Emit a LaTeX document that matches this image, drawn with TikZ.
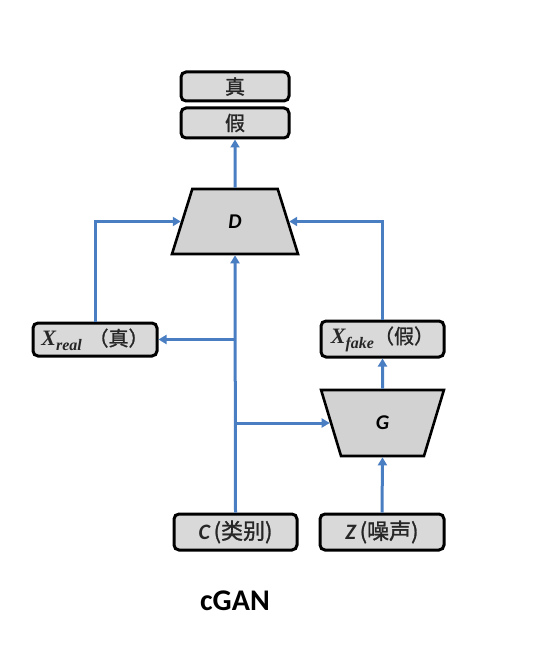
\documentclass[tikz,border=0pt]{standalone}
\usepackage{fontspec}
\usetikzlibrary{shapes.geometric,arrows.meta}
\newfontfamily\cjk[FakeBold=1.2]{Noto Sans CJK SC}
\newfontfamily\calfont{Carlito}
\newfontfamily\serbi{Liberation Serif}[UprightFont=* Bold Italic]
\definecolor{lineblue}{RGB}{74,126,194}
\definecolor{boxgray}{RGB}{217,217,217}
\definecolor{trapgray}{RGB}{210,210,210}
\newcommand{\xsub}[2]{{\serbi\fontsize{22}{22}\selectfont #1\raisebox{-4.5pt}{\fontsize{16}{16}\selectfont #2}}}
\tikzset{
  box/.style={draw=black, line width=3pt, rounded corners=5pt, fill=boxgray,
    inner sep=0pt, text=black!85},
  trap/.style={draw=black, line width=2.6pt, fill=trapgray, trapezium,
    trapezium stretches=true, trapezium angle=77, inner sep=0pt},
  arr/.style={draw=lineblue, line width=3pt, -{Triangle[length=8pt,width=9pt]}},
}
\begin{document}
\begin{tikzpicture}[x=1pt,y=-1pt]
\useasboundingbox (0,0) rectangle (548,652);
% top boxes
\node[box, minimum width=108pt, minimum height=29pt] (zhen) at (235,86.5) {\cjk\fontsize{20}{20}\selectfont 真};
\node[box, minimum width=108pt, minimum height=30pt] (jia) at (235,123) {\cjk\fontsize{20}{20}\selectfont 假};
% D
\node[trap, minimum width=126pt, minimum height=65pt] (D) at (235,221.5) {\calfont\bfseries\itshape\fontsize{21}{21}\selectfont D};
% X boxes
\node[box, minimum width=124pt, minimum height=33pt] (Xreal) at (95,339.5)
  {\xsub{X}{real}\ \ {\cjk\fontsize{20}{20}\selectfont（真）}};
\node[box, minimum width=123pt, minimum height=36pt] (Xfake) at (382.5,339)
  {\xsub{X}{fake}{\cjk\fontsize{20}{20}\selectfont（假）}};
% G
\node[trap, shape border rotate=180, minimum width=123pt, minimum height=66pt] (G) at (382.5,423) {\calfont\bfseries\itshape\fontsize{21}{21}\selectfont G};
% bottom boxes
\node[box, minimum width=123pt, minimum height=36pt] (C) at (235.5,532)
  {\fontsize{22}{22}\selectfont{\calfont\bfseries\itshape C}\,{\cjk(类别)}};
\node[box, minimum width=124pt, minimum height=36pt] (Z) at (382,532)
  {\fontsize{22}{22}\selectfont{\calfont\bfseries\itshape Z}\,{\cjk(噪声)}};
% title
\node[font=\calfont\bfseries\fontsize{30}{30}\selectfont] (title) at (235,601) {cGAN};
% connectors
\draw[arr] (D.north) -- (jia.south);
\draw[arr] (Xreal.north) |- (D.west);
\draw[arr] (Xfake.north) |- (D.east);
\draw[arr] (C.north) -- (D.south);
\coordinate (jl) at (C.north |- Xreal.east);
\coordinate (jr) at (C.north |- G.west);
\draw[arr] (jl) -- (Xreal.east);
\draw[arr] (jr) -- (G.west);
\draw[arr] (G.north) -- (Xfake.south);
\draw[arr] (Z.north) -- (G.south);
\end{tikzpicture}
\end{document}
